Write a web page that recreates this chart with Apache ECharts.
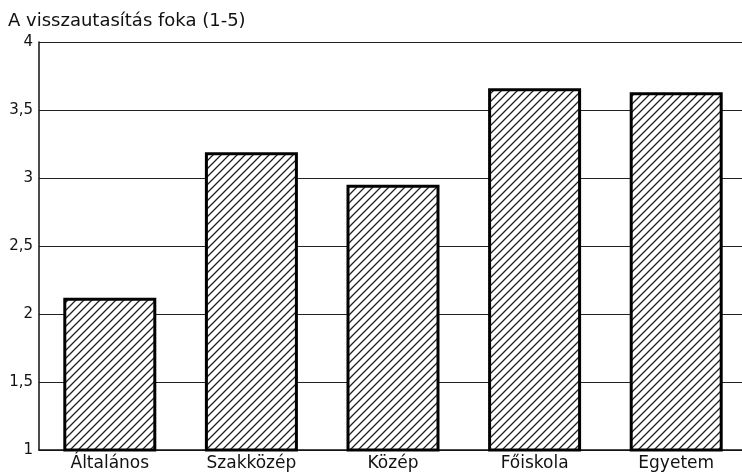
<!DOCTYPE html>
<html><head><meta charset="utf-8">
<script src="https://cdn.jsdelivr.net/npm/echarts@6/dist/echarts.min.js"></script>
<style>html,body{margin:0;padding:0;background:#fff;overflow:hidden}#c{width:752px;height:476px}</style>
</head><body><div id="c"></div>
<script>
const categories = ['Általános', 'Szakközép', 'Közép', 'Főiskola', 'Egyetem'];
const values = [2.12, 3.19, 2.95, 3.66, 3.63];
const yTicks = ['1', '1,5', '2', '2,5', '3', '3,5', '4'];
const yTitle = 'A visszautasítás foka (1-5)';

function hatch() {
  const s = 8;
  const cv = document.createElement('canvas');
  cv.width = s; cv.height = s;
  const g = cv.getContext('2d');
  g.fillStyle = '#fff'; g.fillRect(0, 0, s, s);
  g.strokeStyle = '#222'; g.lineWidth = 1.3;
  g.beginPath();
  g.moveTo(0, s); g.lineTo(s, 0);
  g.moveTo(-s / 2, s / 2); g.lineTo(s / 2, -s / 2);
  g.moveTo(s / 2, s * 1.5); g.lineTo(s * 1.5, s / 2);
  g.stroke();
  return cv;
}

const chart = echarts.init(document.getElementById('c'), null, {renderer: 'canvas'});
const font = 'DejaVu Sans';
chart.setOption({
  backgroundColor: '#fff',
  animation: false,
  title: {text: yTitle, left: 3, top: 7, textStyle: {fontFamily: font, fontSize: 18, fontWeight: 'normal', color: '#111'}},
  grid: {left: 39, top: 42, width: 708, height: 408},
  xAxis: {
    type: 'category', data: categories,
    axisLine: {lineStyle: {color: '#111', width: 1.5}},
    axisTick: {show: false},
    axisLabel: {fontFamily: font, fontSize: 17, color: '#111', margin: 5}
  },
  yAxis: {
    type: 'value', min: 1, max: 4, interval: 0.5,
    axisLine: {show: true, lineStyle: {color: '#111', width: 1.5}},
    axisTick: {show: false},
    axisLabel: {fontFamily: font, fontSize: 15, color: '#111', margin: 6,
      formatter: v => yTicks[Math.round((v - 1) / 0.5)]},
    splitLine: {lineStyle: {color: '#222', width: 1}}
  },
  series: [{
    type: 'bar', data: values, barWidth: 93,
    itemStyle: {color: {image: hatch(), repeat: 'repeat'}, borderColor: '#000', borderWidth: 3}
  }]
});
</script></body></html>
